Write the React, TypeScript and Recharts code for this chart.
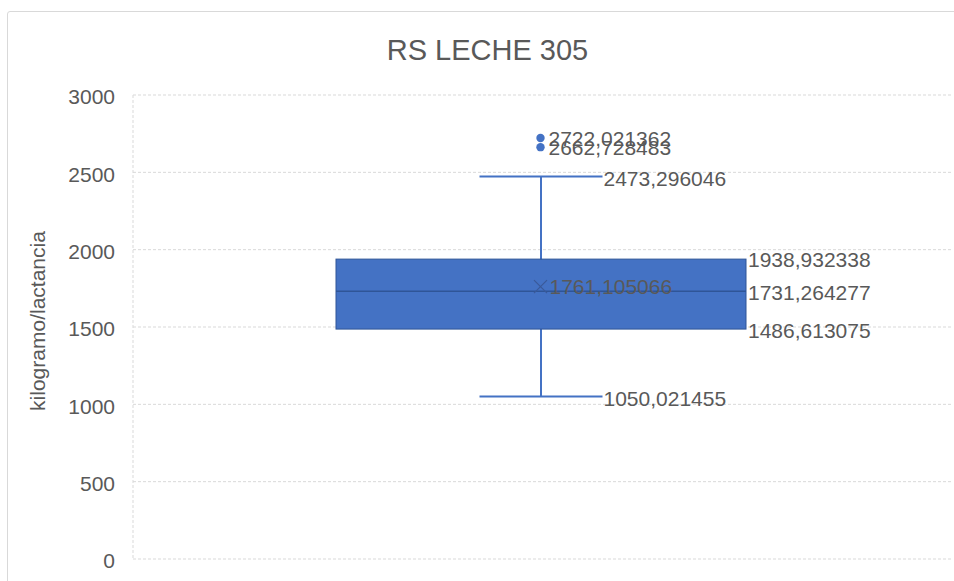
import React from 'react';
import {
  ComposedChart,
  Bar,
  Scatter,
  XAxis,
  YAxis,
  CartesianGrid,
} from 'recharts';

const categories = ['RS LECHE 305'];
const q1Values = [1486.613075];
const medianValues = [1731.264277];
const q3Values = [1938.932338];
const lowWhisker = [1050.021455];
const highWhisker = [2473.296046];
const meanValues = [1761.105066];
const outlierValues = [[2722.021362, 2662.728483]];
const yTicks = [0, 500, 1000, 1500, 2000, 2500, 3000];

const data = categories.map((name, i) => {
  const row: any = {
    name,
    box: [q1Values[i], q3Values[i]],
    q1: q1Values[i],
    median: medianValues[i],
    q3: q3Values[i],
    low: lowWhisker[i],
    high: highWhisker[i],
    mean: meanValues[i],
  };
  outlierValues[i].forEach((v, j) => {
    row['out' + j] = v;
  });
  return row;
});

const FONT = '"Liberation Sans", Arial, sans-serif';
const TEXT = '#595959';
const BLUE = '#4472C4';
const DARK = '#2F5597';

const fmt = (v: number) => v.toFixed(6).replace('.', ',');

function ValueText({ x, y, v }: { x: number; y: number; v: number }) {
  return (
    <text x={x} y={y + 1} dy="0.36em" fill={TEXT} fontSize={21} fontFamily={FONT}>
      {fmt(v)}
    </text>
  );
}

function BoxShape(props: any) {
  const { x, y, width, height, payload } = props;
  const top = Math.min(y, y + height);
  const h = Math.abs(height);
  const perUnit = h / (payload.q3 - payload.q1);
  const yOf = (v: number) => top + (payload.q3 - v) * perUnit;
  const cx = x + width / 2;
  const cap = width * 0.15;
  const right = x + width;
  return (
    <g>
      <line x1={cx} x2={cx} y1={yOf(payload.high)} y2={yOf(payload.low)} stroke={BLUE} strokeWidth={2} />
      <line x1={cx - cap} x2={cx + cap} y1={yOf(payload.high)} y2={yOf(payload.high)} stroke={BLUE} strokeWidth={2} />
      <line x1={cx - cap} x2={cx + cap} y1={yOf(payload.low)} y2={yOf(payload.low)} stroke={BLUE} strokeWidth={2} />
      <rect x={x} y={top} width={width} height={h} fill={BLUE} stroke={DARK} strokeWidth={1} />
      <line x1={x} x2={right} y1={yOf(payload.median)} y2={yOf(payload.median)} stroke={DARK} strokeWidth={1.5} />
      <ValueText x={cx + cap + 1} y={yOf(payload.high) + 0.5} v={payload.high} />
      <ValueText x={cx + cap + 1} y={yOf(payload.low) + 0.5} v={payload.low} />
      <ValueText x={right + 2} y={yOf(payload.q3) - 1} v={payload.q3} />
      <ValueText x={right + 2} y={yOf(payload.median)} v={payload.median} />
      <ValueText x={right + 2} y={yOf(payload.q1)} v={payload.q1} />
    </g>
  );
}

function MeanShape(props: any) {
  const { cx, cy, payload } = props;
  const s = 6.5;
  return (
    <g>
      <line x1={cx - s} x2={cx + s} y1={cy - s} y2={cy + s} stroke="#3A5A9A" strokeWidth={1.3} />
      <line x1={cx - s} x2={cx + s} y1={cy + s} y2={cy - s} stroke="#3A5A9A" strokeWidth={1.3} />
      <text x={cx + 9} y={cy} dy="0.36em" fill={TEXT} fontSize={21} fontFamily={FONT}>
        {fmt(payload.mean)}
      </text>
    </g>
  );
}

function outlierShape(key: string) {
  return (props: any) => {
    const { cx, cy, payload } = props;
    return (
      <g>
        <circle cx={cx} cy={cy} r={4.2} fill={BLUE} />
        <text x={cx + 8} y={cy} dy="0.36em" fill={TEXT} fontSize={21} fontFamily={FONT}>
          {fmt(payload[key])}
        </text>
      </g>
    );
  };
}

export default function App() {
  return (
    <div style={{ position: 'fixed', inset: 0, overflow: 'hidden', background: '#fff' }}>
      <div
        style={{
          position: 'absolute',
          left: 7,
          top: 11,
          width: 980,
          height: 620,
          border: '1px solid #d9d9d9',
          borderRadius: 3,
        }}
      />
      <div
        style={{
          position: 'absolute',
          left: 0,
          top: 35.5,
          width: 975,
          textAlign: 'center',
          fontFamily: FONT,
          fontSize: 29,
          lineHeight: '29px',
          color: TEXT,
        }}
      >
        RS LECHE 305
      </div>
      <div
        style={{
          position: 'absolute',
          left: 38 - 150,
          top: 321 - 11,
          width: 300,
          height: 22,
          textAlign: 'center',
          fontFamily: FONT,
          fontSize: 21,
          lineHeight: '22px',
          color: TEXT,
          transform: 'rotate(-90deg)',
          transformOrigin: 'center',
        }}
      >
        kilogramo/lactancia
      </div>
      <div style={{ position: 'absolute', left: 0, top: 0 }}>
        <ComposedChart
          width={954}
          height={581}
          data={data}
          margin={{ top: 95, right: 2, bottom: 22, left: 0 }}
        >
          <CartesianGrid vertical={false} stroke="#d9d9d9" strokeDasharray="3 2" />
          <XAxis dataKey="name" hide padding={{ left: 0, right: 4 }} />
          <YAxis
            width={133}
            domain={[0, 3000]}
            ticks={yTicks}
            interval={0}
            tickLine={false}
            tickSize={0}
            tickMargin={18}
            axisLine={{ stroke: '#d9d9d9', strokeDasharray: '3 2' }}
            tick={{ fill: TEXT, fontSize: 21, fontFamily: FONT, dy: 2 }}
          />
          <Bar dataKey="box" barSize={410} shape={BoxShape} isAnimationActive={false} />
          <Scatter dataKey="mean" shape={MeanShape} isAnimationActive={false} />
          {outlierValues[0].map((_, j) => (
            <Scatter
              key={j}
              dataKey={'out' + j}
              shape={outlierShape('out' + j)}
              isAnimationActive={false}
            />
          ))}
        </ComposedChart>
      </div>
    </div>
  );
}
